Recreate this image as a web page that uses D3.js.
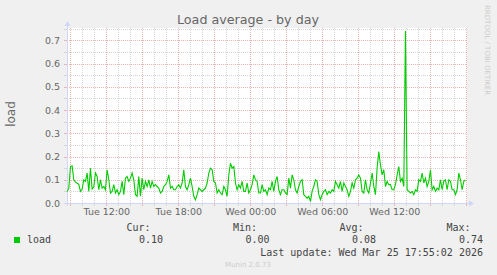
<!DOCTYPE html>
<html>
<head>
<meta charset="utf-8">
<script src="https://cdn.jsdelivr.net/npm/d3@7"></script>
<style>
  body { margin: 0; background: #f0f0f0; }
  svg { display: block; }
</style>
</head>
<body>
<script>
// Munin "Load average - by day" graph

// series: one sample every 500 s starting at loadStart
const loadStart = new Date(2026, 2, 24, 8, 44, 0);
const loadStepSec = 500;
const loadValues = [
  0.05, 0.064, 0.157, 0.16, 0.10, 0.09, 0.085, 0.08, 0.05, 0.06,
  0.10, 0.093, 0.129, 0.05, 0.15, 0.06, 0.07, 0.129, 0.114, 0.057,
  0.10, 0.064, 0.071, 0.057, 0.143, 0.10, 0.043, 0.05, 0.079, 0.043,
  0.057, 0.036, 0.05, 0.093, 0.036, 0.107, 0.114, 0.093, 0.107, 0.129,
  0.10, 0.036, 0.029, 0.114, 0.029, 0.107, 0.057, 0.093, 0.071, 0.10,
  0.064, 0.093, 0.071, 0.079, 0.071, 0.064, 0.043, 0.05, 0.071, 0.079,
  0.093, 0.121, 0.064, 0.071, 0.057, 0.057, 0.071, 0.079, 0.064, 0.086,
  0.143, 0.071, 0.057, 0.079, 0.107, 0.071, 0.029, 0.014, 0.036, 0.064,
  0.057, 0.05, 0.057, 0.064, 0.086, 0.129, 0.15, 0.143, 0.093, 0.086,
  0.043, 0.057, 0.043, 0.036, 0.071, 0.057, 0.029, 0.121, 0.171, 0.15,
  0.157, 0.086, 0.057, 0.079, 0.064, 0.093, 0.05, 0.05, 0.086, 0.043,
  0.057, 0.08, 0.121, 0.10, 0.093, 0.043, 0.043, 0.079, 0.05, 0.057,
  0.036, 0.064, 0.057, 0.093, 0.05, 0.093, 0.114, 0.057, 0.036, 0.057,
  0.057, 0.043, 0.036, 0.107, 0.064, 0.121, 0.10, 0.057, 0.043, 0.071,
  0.093, 0.10, 0.036, 0.029, 0.021, 0.029, 0.007, 0.05, 0.071, 0.10,
  0.093, 0.036, 0.014, 0.036, 0.05, 0.057, 0.036, 0.05, 0.043, 0.057,
  0.05, 0.093, 0.079, 0.064, 0.093, 0.05, 0.086, 0.071, 0.057, 0.029,
  0.05, 0.086, 0.064, 0.10, 0.107, 0.121, 0.107, 0.05, 0.043, 0.10,
  0.057, 0.043, 0.086, 0.129, 0.071, 0.036, 0.15, 0.221, 0.164, 0.121,
  0.143, 0.071, 0.093, 0.079, 0.079, 0.057, 0.057, 0.079, 0.121, 0.157,
  0.093, 0.107, 0.071, 0.74, 0.057, 0.05, 0.043, 0.05, 0.036, 0.057,
  0.05, 0.10, 0.093, 0.129, 0.086, 0.107, 0.071, 0.093, 0.143, 0.057,
  0.071, 0.05, 0.064, 0.057, 0.10, 0.057, 0.093, 0.10, 0.057, 0.10,
  0.093, 0.057, 0.057, 0.036, 0.057, 0.129, 0.10, 0.057, 0.093, 0.10
];

// legend figures
const legendHeads = ["Cur:", "Min:", "Avg:", "Max:"];
const legendNums = ["0.10", "0.00", "0.08", "0.74"];
const lastUpdate = "Last update: Wed Mar 25 17:55:02 2026";

// graph window (400 px at 5 min per px)
const xStart = new Date(2026, 2, 24, 8, 43, 20);
const xEnd = new Date(2026, 2, 25, 18, 3, 20);
const yMax = 0.7533;

const W = 497, H = 275;
const plotLeft = 67, plotTop = 28, plotW = 400, plotH = 175;

const svg = d3.select("body").append("svg")
    .attr("width", W)
    .attr("height", H);

svg.append("rect").attr("width", W).attr("height", H).attr("fill", "#f0f0f0");

var x = d3.scaleTime().domain([xStart, xEnd]).range([plotLeft, plotLeft + plotW]);
var y = d3.scaleLinear().domain([0, yMax]).range([plotTop + plotH, plotTop]);

// canvas
svg.append("rect")
    .attr("x", plotLeft).attr("y", plotTop)
    .attr("width", plotW).attr("height", plotH)
    .attr("fill", "#ffffff");

var minorCol = "#d6d6d6", majorCol = "#eeb4b4";
var grid = svg.append("g").attr("shape-rendering", "crispEdges");

// horizontal grid
var yMinor = y.ticks(15), yMajor = y.ticks(8);
yMinor.forEach(function (v) {
    var isMajor = yMajor.some(function (m) { return Math.abs(m - v) < 1e-9; });
    var py = Math.round(y(v)) + 0.5;
    grid.append("line")
        .attr("x1", plotLeft - 2).attr("x2", plotLeft + plotW)
        .attr("y1", py).attr("y2", py)
        .attr("stroke", isMajor ? majorCol : minorCol)
        .attr("stroke-dasharray", "1,1");
    grid.append("line")
        .attr("x1", plotLeft - 3).attr("x2", plotLeft)
        .attr("y1", py).attr("y2", py)
        .attr("stroke", isMajor ? majorCol : minorCol);
});

// vertical grid
var xMinor = x.ticks(d3.timeHour.every(1));
xMinor.forEach(function (t) {
    var isMajor = t.getHours() % 3 === 0;
    var px = Math.round(x(t)) + 0.5;
    grid.append("line")
        .attr("x1", px).attr("x2", px)
        .attr("y1", plotTop).attr("y2", plotTop + plotH + 2)
        .attr("stroke", isMajor ? majorCol : minorCol)
        .attr("stroke-dasharray", "1,1");
    grid.append("line")
        .attr("x1", px).attr("x2", px)
        .attr("y1", plotTop + plotH).attr("y2", plotTop + plotH + 3)
        .attr("stroke", isMajor ? majorCol : minorCol);
});

// axes lines + arrows
var axisCol = "#cfd6f8";
svg.append("line")
    .attr("x1", plotLeft + 0.5).attr("x2", plotLeft + 0.5)
    .attr("y1", plotTop + plotH + 3).attr("y2", plotTop - 4)
    .attr("stroke", axisCol).attr("shape-rendering", "crispEdges");
svg.append("line")
    .attr("x1", plotLeft - 3).attr("x2", plotLeft + plotW + 4)
    .attr("y1", plotTop + plotH + 0.5).attr("y2", plotTop + plotH + 0.5)
    .attr("stroke", axisCol).attr("shape-rendering", "crispEdges");
svg.append("path")
    .attr("d", "M" + (plotLeft - 2.5) + "," + (plotTop - 2) + "L" + (plotLeft + 0.5) + "," + (plotTop - 7) + "L" + (plotLeft + 3.5) + "," + (plotTop - 2) + "Z")
    .attr("fill", axisCol);
svg.append("path")
    .attr("d", "M" + (plotLeft + plotW + 2) + "," + (plotTop + plotH - 2.5) + "L" + (plotLeft + plotW + 7) + "," + (plotTop + plotH + 0.5) + "L" + (plotLeft + plotW + 2) + "," + (plotTop + plotH + 3.5) + "Z")
    .attr("fill", axisCol);

// data line
var loadData = loadValues.map(function (v, i) {
    return { t: new Date(loadStart.getTime() + i * loadStepSec * 1000), v: v };
});
var line = d3.line()
    .x(function (d) { return x(d.t); })
    .y(function (d) { return y(d.v); });
svg.append("path")
    .datum(loadData)
    .attr("d", line)
    .attr("fill", "none")
    .attr("stroke", "#00cc00")
    .attr("stroke-width", 1.1);

// tick labels (drop a label that would run past the right edge)
var fontCol = "#666666";
var labelTicks = x.ticks(d3.timeHour.every(6)).filter(function (t) {
    return x(t) < plotLeft + plotW - 25;
});
var yAxis = svg.append("g")
    .attr("transform", "translate(" + plotLeft + ",0)")
    .call(d3.axisLeft(y).tickValues(yMajor).tickFormat(d3.format(".1f")).tickSize(0).tickPadding(7));
var xAxis = svg.append("g")
    .attr("transform", "translate(0," + (plotTop + plotH) + ")")
    .call(d3.axisBottom(x).tickValues(labelTicks).tickFormat(d3.timeFormat("%a %H:%M")).tickSize(0).tickPadding(5));
[yAxis, xAxis].forEach(function (a) {
    a.select(".domain").remove();
    a.selectAll("text")
        .attr("fill", fontCol)
        .style("font-family", "DejaVu Sans")
        .style("font-size", "9.5px");
});

// title and labels
svg.append("text")
    .attr("x", 248).attr("y", 24)
    .attr("text-anchor", "middle")
    .attr("fill", fontCol)
    .style("font-family", "DejaVu Sans")
    .style("font-size", "12.7px")
    .text("Load average - by day");

svg.append("text")
    .attr("transform", "translate(15," + 114 + ") rotate(-90)")
    .attr("text-anchor", "middle")
    .attr("fill", fontCol)
    .style("font-family", "DejaVu Sans")
    .style("font-size", "12px")
    .text("load");

svg.append("text")
    .attr("transform", "translate(485,5) rotate(90)")
    .attr("fill", "#cccccc")
    .style("font-family", "DejaVu Sans")
    .style("font-size", "7px")
    .text("RRDTOOL / TOBI OETIKER");

// legend
var mono = "DejaVu Sans Mono";
svg.append("rect")
    .attr("x", 14).attr("y", 237).attr("width", 6).attr("height", 6)
    .attr("fill", "#00cc00");
svg.append("text")
    .attr("x", 27).attr("y", 243)
    .attr("fill", "#444444")
    .style("font-family", mono).style("font-size", "10px")
    .text("load");

var colRight = [163, 269.5, 376, 483];
legendHeads.forEach(function (h, i) {
    svg.append("text")
        .attr("x", colRight[i] - 12.5).attr("y", 231)
        .attr("text-anchor", "end")
        .attr("fill", "#444444")
        .style("font-family", mono).style("font-size", "10px")
        .text(h);
    svg.append("text")
        .attr("x", colRight[i]).attr("y", 243)
        .attr("text-anchor", "end")
        .attr("fill", "#444444")
        .style("font-family", mono).style("font-size", "10px")
        .text(legendNums[i]);
});
svg.append("text")
    .attr("x", 483).attr("y", 256)
    .attr("text-anchor", "end")
    .attr("fill", "#444444")
    .style("font-family", mono).style("font-size", "10px")
    .text(lastUpdate);

svg.append("text")
    .attr("x", 248).attr("y", 267)
    .attr("text-anchor", "middle")
    .attr("fill", "#cccccc")
    .style("font-family", "DejaVu Sans")
    .style("font-size", "7px")
    .text("Munin 2.0.73");
</script>
</body>
</html>
